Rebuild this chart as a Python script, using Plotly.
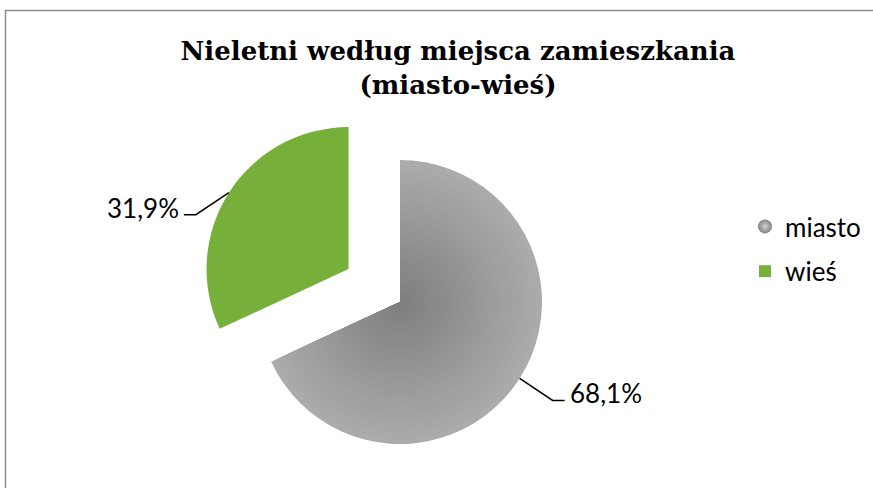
import math
import plotly.graph_objects as go

# ---- data ----
categories = ["miasto", "wieś"]
shares = [68.1, 31.9]
title_lines = ["Nieletni według miejsca zamieszkania", "(miasto-wieś)"]

# ---- style ----
W, H = 873, 488
GREEN = "#76b03a"
CLEAR = "rgba(0,0,0,0)"
GREY_CENTRE, GREY_EDGE = 0x7e, 0xac
LABEL_FONT = dict(family="Lato, sans-serif", size=26, color="#000000")
N_RINGS = 24

# pie geometry in screen pixels: centre & radius of the un-exploded pie
cx, cy, r = 400, 302, 142
pull = 0.43  # explosion of the second slice (fraction of radius)


def px(x):
    return x / W


def py(y):
    return 1 - y / H


def dom(cxp, cyp, rad):
    return dict(x=[px(cxp - rad), px(cxp + rad)], y=[py(cyp + rad), py(cyp - rad)])


total = sum(shares)
starts = [sum(shares[:i]) for i in range(len(shares))]
mid_angles = [2 * math.pi * (s + v / 2) / total for s, v in zip(starts, shares)]
pulls = [0.0, pull]
centres = [(cx + p * r * math.sin(a), cy - p * r * math.cos(a)) for p, a in zip(pulls, mid_angles)]

fig = go.Figure()

# slice "miasto": radial shading built from stacked pies (outer/light -> inner/dark)
for k in range(N_RINGS):
    rad = r * (N_RINGS - k) / N_RINGS
    t = (N_RINGS - k - 0.5) / N_RINGS
    g = round(GREY_CENTRE + (GREY_EDGE - GREY_CENTRE) * t)
    col = f"rgb({g},{g},{g})"
    fig.add_trace(go.Pie(
        labels=categories, values=shares, sort=False, direction="clockwise", rotation=0,
        marker=dict(colors=[col, CLEAR], line=dict(width=0)),
        textinfo="none", showlegend=False, hoverinfo="label+percent",
        domain=dom(centres[0][0], centres[0][1], rad),
    ))

# slice "wieś" (exploded)
fig.add_trace(go.Pie(
    labels=categories, values=shares, sort=False, direction="clockwise", rotation=0,
    marker=dict(colors=[CLEAR, GREEN], line=dict(width=0)),
    textinfo="none", showlegend=False, hoverinfo="label+percent",
    domain=dom(centres[1][0], centres[1][1], r),
))

# data labels with leader lines
annotations = []
shapes = []
for v, a, (ccx, ccy) in zip(shares, mid_angles, centres):
    side = 1 if math.sin(a) > 0 else -1
    p0 = (ccx + r * math.sin(a), ccy - r * math.cos(a))
    p1 = (p0[0] + side * 33, p0[1] + 22)
    p2 = (p1[0] + side * 12, p1[1])
    shapes.append(dict(
        type="path", xref="paper", yref="paper",
        path=f"M{px(p0[0])},{py(p0[1])} L{px(p1[0])},{py(p1[1])} L{px(p2[0])},{py(p2[1])}",
        line=dict(color="#000000", width=1.5),
    ))
    annotations.append(dict(
        xref="paper", yref="paper", x=px(p2[0] + side * 3), y=py(p2[1] - 7),
        xanchor="left" if side > 0 else "right", yanchor="middle",
        text=f"{v:.1f}".replace(".", ",") + "%", showarrow=False, font=LABEL_FONT,
    ))

# chart border
shapes.append(dict(
    type="rect", xref="paper", yref="paper",
    x0=px(5.5), x1=1.05, y0=-0.05, y1=py(10.5),
    line=dict(color="#8c8c8c", width=1.5), layer="below",
))

# legend entries
fig.add_trace(go.Scatter(
    x=[None], y=[None], mode="markers", name=categories[0], legendgroup="a",
    marker=dict(symbol="circle", size=14, color="#808080",
                gradient=dict(type="radial", color="#d4d4d4")),
))
fig.add_trace(go.Scatter(
    x=[None], y=[None], mode="markers", name=categories[1], legendgroup="b",
    marker=dict(symbol="square", size=12, color=GREEN),
))

fig.update_layout(
    width=W, height=H,
    margin=dict(l=0, r=0, t=0, b=0),
    paper_bgcolor="white", plot_bgcolor="white",
    title=dict(
        text="<b>" + "<br>".join(title_lines) + "</b>",
        x=px(458), xanchor="center", y=py(60), yanchor="top",
        font=dict(family="DejaVu Serif, serif", size=26, color="#000000"),
    ),
    xaxis=dict(visible=False), yaxis=dict(visible=False),
    legend=dict(
        x=px(745), xanchor="left", y=py(203), yanchor="top",
        font=LABEL_FONT, tracegroupgap=8, bgcolor="rgba(0,0,0,0)",
    ),
    annotations=annotations,
    shapes=shapes,
)

fig.write_html("out.html", config={"displayModeBar": False},
               post_script="document.body.style.margin='0';")
